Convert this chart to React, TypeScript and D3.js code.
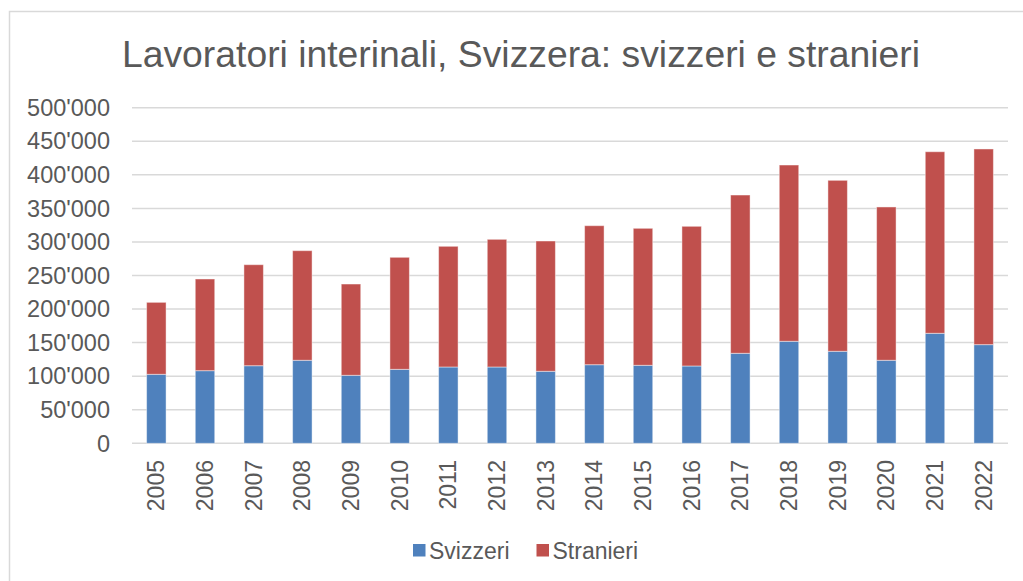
import React, { useEffect, useRef } from "react";
import * as d3 from "d3";

const years = [
  "2005", "2006", "2007", "2008", "2009", "2010", "2011", "2012", "2013",
  "2014", "2015", "2016", "2017", "2018", "2019", "2020", "2021", "2022",
];
const svizzeri = [
  102800, 108200, 115600, 123700, 101300, 110200, 113700, 113700, 107300,
  117100, 116200, 115200, 134100, 152000, 137100, 123700, 163900, 147000,
];
const totals = [
  210000, 244800, 266100, 287000, 237300, 277100, 293500, 303900, 301400,
  324200, 320300, 323300, 369900, 414600, 391800, 352100, 434400, 438500,
];
const stranieri = totals.map((t, i) => t - svizzeri[i]);
const seriesNames = ["Svizzeri", "Stranieri"];
const seriesColors = ["#4F81BD", "#C0504D"];
const yTicks = [0, 50000, 100000, 150000, 200000, 250000, 300000, 350000, 400000, 450000, 500000];

const W = 1023;
const H = 581;
const FONT = "'Liberation Sans', Arial, sans-serif";
const TXT = "#595959";

const App = () => {
  const ref = useRef<SVGSVGElement | null>(null);

  useEffect(() => {
    const svg = d3.select(ref.current);
    svg.selectAll("*").remove();

    const margin = { top: 107.7, right: 15, bottom: 137.7, left: 132 };

    const x = d3
      .scaleBand()
      .domain(years)
      .range([margin.left, W - margin.right])
      .paddingInner(0.6)
      .paddingOuter(0.3);

    const y = d3
      .scaleLinear()
      .domain([0, 500000])
      .range([H - margin.bottom, margin.top]);

    // chart frame
    svg
      .append("rect")
      .attr("x", 9.5)
      .attr("y", 11.5)
      .attr("width", W + 10)
      .attr("height", H + 10)
      .attr("fill", "#fff")
      .attr("stroke", "#D9D9D9")
      .attr("stroke-width", 1.5);

    svg
      .append("text")
      .attr("x", 521)
      .attr("y", 67)
      .attr("text-anchor", "middle")
      .attr("font-family", FONT)
      .attr("font-size", 37.3)
      .attr("fill", TXT)
      .text("Lavoratori interinali, Svizzera: svizzeri e stranieri");

    // gridlines
    svg
      .append("g")
      .selectAll("line")
      .data(yTicks)
      .enter()
      .append("line")
      .attr("x1", margin.left)
      .attr("x2", W - margin.right)
      .attr("y1", (d) => y(d))
      .attr("y2", (d) => y(d))
      .attr("stroke", "#D9D9D9")
      .attr("stroke-width", 1.5);

    // y axis labels
    const fmt = (d: number) => d3.format(",")(d).replace(/,/g, "'");
    svg
      .append("g")
      .selectAll("text")
      .data(yTicks)
      .enter()
      .append("text")
      .attr("x", 110)
      .attr("y", (d) => y(d))
      .attr("dy", "0.35em")
      .attr("text-anchor", "end")
      .attr("font-family", FONT)
      .attr("font-size", 23.5)
      .attr("fill", TXT)
      .text(fmt);

    // stacked bars
    const rows = years.map((yr, i) => ({ year: yr, Svizzeri: svizzeri[i], Stranieri: stranieri[i] }));
    const stack = d3.stack<any>().keys(seriesNames)(rows);

    svg
      .append("g")
      .selectAll("g")
      .data(stack)
      .enter()
      .append("g")
      .attr("fill", (_d, i) => seriesColors[i])
      .selectAll("rect")
      .data((d) => d)
      .enter()
      .append("rect")
      .attr("x", (d: any) => x(d.data.year) as number)
      .attr("width", x.bandwidth())
      .attr("y", (d) => y(d[1]))
      .attr("height", (d) => y(d[0]) - y(d[1]))
      .attr("stroke", "rgba(255,255,255,0.45)")
      .attr("stroke-width", 1);

    // x axis labels
    svg
      .append("g")
      .selectAll("text")
      .data(years)
      .enter()
      .append("text")
      .attr(
        "transform",
        (d) => `translate(${(x(d) as number) + x.bandwidth() / 2},460) rotate(-90)`
      )
      .attr("dy", "0.35em")
      .attr("text-anchor", "end")
      .attr("font-family", FONT)
      .attr("font-size", 23)
      .attr("fill", TXT)
      .text((d) => d);

    // legend
    const legendX = [413, 536.5];
    const lg = svg
      .append("g")
      .selectAll("g")
      .data(seriesNames)
      .enter()
      .append("g")
      .attr("transform", (_d, i) => `translate(${legendX[i]},544)`);
    lg.append("rect")
      .attr("width", 12.5)
      .attr("height", 12.5)
      .attr("fill", (_d, i) => seriesColors[i]);
    lg.append("text")
      .attr("x", 16)
      .attr("y", 7)
      .attr("dy", "0.35em")
      .attr("font-family", FONT)
      .attr("font-size", 23)
      .attr("fill", TXT)
      .text((d) => d);

    return () => {
      svg.selectAll("*").remove();
    };
  }, []);

  return (
    <div style={{ position: "absolute", left: 0, top: 0 }}>
      <svg ref={ref} width={W} height={H} style={{ display: "block" }} />
    </div>
  );
};

export default App;
